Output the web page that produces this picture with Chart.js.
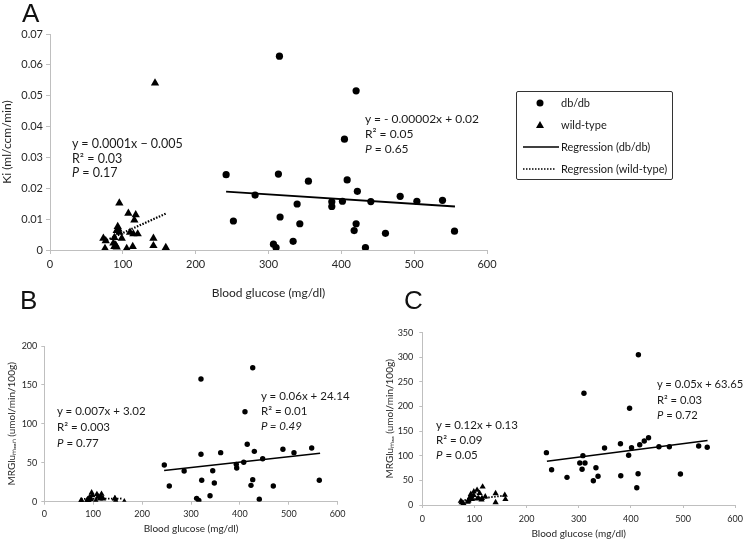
<!DOCTYPE html>
<html><head><meta charset="utf-8">
<script src="https://cdn.jsdelivr.net/npm/chart.js@4.4.1/dist/chart.umd.min.js"></script>
<style>
html,body{margin:0;padding:0;background:#fff;width:749px;height:540px;overflow:hidden;position:relative;}
canvas{position:absolute;}
.t{position:absolute;font-family:Lato,sans-serif;color:#1a1a1a;white-space:nowrap;line-height:12px;}
.letter{position:absolute;font-family:"Liberation Sans",Arial,sans-serif;font-size:26px;line-height:26px;color:#111;}
.legend{position:absolute;left:516px;top:91px;width:155px;height:87px;border:1.5px solid #333;border-radius:2px;}
.legend div{position:absolute;font-family:Lato,sans-serif;font-size:11px;line-height:12px;color:#1a1a1a;white-space:nowrap;}
.legend svg{position:absolute;left:0;top:0;}
</style></head>
<body>
<canvas id="cA" width="749" height="300" style="left:0;top:0;width:749px;height:300px"></canvas>
<canvas id="cB" width="370" height="240" style="left:0;top:300px;width:370px;height:240px"></canvas>
<canvas id="cC" width="379" height="240" style="left:370px;top:300px;width:379px;height:240px"></canvas>

<div class="letter" style="left:22px;top:0px">A</div>
<div class="letter" style="left:20px;top:287px">B</div>
<div class="letter" style="left:404px;top:287px">C</div>

<div class="t" style="left:72px;top:138px;font-size:12.5px">y = 0.0001x − 0.005</div>
<div class="t" style="left:72px;top:153px;font-size:12.5px">R² = 0.03</div>
<div class="t" style="left:72px;top:167px;font-size:12.5px"><i>P</i> = 0.17</div>

<div class="t" style="left:365px;top:113px;font-size:12px">y = - 0.00002x + 0.02</div>
<div class="t" style="left:365px;top:128px;font-size:12px">R² = 0.05</div>
<div class="t" style="left:365px;top:143px;font-size:12px"><i>P</i> = 0.65</div>

<div class="t" style="left:57px;top:405px;font-size:11.5px">y = 0.007x + 3.02</div>
<div class="t" style="left:57px;top:421px;font-size:11.5px">R² = 0.003</div>
<div class="t" style="left:57px;top:437px;font-size:11.5px"><i>P</i> = 0.77</div>

<div class="t" style="left:261px;top:390px;font-size:11.5px">y = 0.06x + 24.14</div>
<div class="t" style="left:261px;top:405px;font-size:11.5px">R² = 0.01</div>
<div class="t" style="left:261px;top:420px;font-size:11.5px"><i>P = 0.49</i></div>

<div class="t" style="left:436px;top:419px;font-size:11.5px">y = 0.12x + 0.13</div>
<div class="t" style="left:436px;top:434px;font-size:11.5px">R² = 0.09</div>
<div class="t" style="left:436px;top:449px;font-size:11.5px"><i>P</i> = 0.05</div>

<div class="t" style="left:657px;top:378px;font-size:11.2px">y = 0.05x + 63.65</div>
<div class="t" style="left:657px;top:394px;font-size:11.2px">R² = 0.03</div>
<div class="t" style="left:657px;top:409px;font-size:11.2px"><i>P</i> = 0.72</div>

<div class="legend">
  <svg width="155" height="87">
    <circle cx="23" cy="11" r="3.5" fill="#000"/>
    <polygon points="23,29 27,36 19,36" fill="#000"/>
    <line x1="6" y1="55" x2="42" y2="55" stroke="#000" stroke-width="1.6"/>
    <line x1="6" y1="77" x2="39" y2="77" stroke="#000" stroke-width="1.6" stroke-dasharray="1.5,1.5"/>
  </svg>
  <div style="left:44px;top:5px">db/db</div>
  <div style="left:44px;top:27px">wild-type</div>
  <div style="left:44px;top:49px">Regression (db/db)</div>
  <div style="left:44px;top:71px">Regression (wild-type)</div>
</div>

<script>
// ---------- Panel A : Ki ----------
const aDbX = [241.8,251.8,281.6,315.0,313.6,315.9,306.8,310.4,333.8,339.3,343.0,354.8,386.9,386.9,401.5,404.3,408.0,420.3,422.0,420.3,417.6,433.1,440.5,480.8,503.7,538.9,460.6,555.4];
const aDbY = [0.0244,0.0094,0.0178,0.0628,0.0246,0.0107,0.0019,0.0008,0.0028,0.0149,0.0085,0.0223,0.0156,0.0141,0.0158,0.0359,0.0227,0.0516,0.0190,0.0085,0.0063,0.0008,0.0157,0.0174,0.0158,0.0161,0.0054,0.0061];
const aWtX = [95.2,107.6,117.7,115.8,93.0,93.9,91.6,95.2,109.9,114.4,120.4,73.3,76.5,88.4,98.5,87.0,90.2,88.4,91.6,75.5,105.3,113.6,142.0,142.0,159.0,144.2];
const aWtY = [0.0152,0.0119,0.0114,0.0097,0.0076,0.0068,0.0063,0.0057,0.0057,0.0052,0.0052,0.0038,0.0030,0.0040,0.0038,0.0022,0.0016,0.0011,0.0009,0.0005,0.0005,0.0011,0.0038,0.0014,0.0008,0.0541];
const aDbFitX = [241.8,556.0];
const aDbFitY = [0.0189,0.0141];
const aWtFitX = [78,160];
const aWtFitY = [0.0032,0.0119];
const aXTicks = [0,100,200,300,400,500,600];
const aYTicks = [0,0.01,0.02,0.03,0.04,0.05,0.06,0.07];

// ---------- Panel B : MRGlu mean ----------
const bDbX = [245.4,255.6,286.0,320.4,320.4,321.9,311.5,316.0,338.9,344.4,347.7,360.7,392.6,393.5,407.8,410.4,415.0,426.2,429.5,426.2,422.7,439.7,446.6,468.3,488.0,510.6,546.8,562.4];
const bDbY = [47.1,20.1,39.4,157.6,60.9,27.5,4.3,1.7,7.7,39.8,24.0,63.0,48.0,43.3,50.6,115.6,73.7,172.0,64.7,28.3,21.0,3.1,55.2,20.2,67.3,63.0,69.0,27.5];
const bWtX = [96.8,107.6,117.0,115.8,93.0,93.9,91.6,95.2,109.9,114.4,120.4,75.0,76.5,88.4,98.5,87.0,90.2,88.4,91.6,75.5,105.3,113.6,144.5,146.0,163.6,144.2];
const bWtY = [11.6,9.5,9.8,7.0,6.0,5.0,4.0,3.0,6.4,6.0,4.0,1.3,1.5,3.0,8.0,1.0,2.0,1.0,0.5,0.5,1.0,4.0,4.3,1.0,0.0,4.0];
const bDbFitX = [245,564];
const bDbFitY = [40.0,62.2];
const bWtFitX = [75,160];
const bWtFitY = [3.5,4.1];
const bXTicks = [0,100,200,300,400,500,600];
const bYTicks = [0,50,100,150,200];

// ---------- Panel C : MRGlu max ----------
const cDbX = [238.0,248.0,277.5,310.0,308.0,302.0,312.0,306.4,328.0,333.0,337.0,349.5,380.0,380.6,395.7,397.5,401.3,414.4,413.8,411.3,417.0,425.7,433.9,453.8,473.8,495.0,530.0,546.4];
const cDbY = [106.3,71.7,56.2,227.0,100.2,85.3,85.3,72.5,49.4,75.8,58.3,115.8,124.5,59.5,101.0,196.4,116.4,305.3,63.6,35.1,122.5,130.0,136.7,118.4,118.4,63.0,119.8,117.2];
const cWtX = [98.8,105.0,115.7,108.0,93.0,93.9,91.6,95.2,109.9,114.4,120.7,73.9,78.8,88.4,98.5,87.0,90.2,88.4,91.6,75.5,105.3,113.6,140.6,140.6,159.4,158.2];
const cWtY = [27.0,30.5,37.0,13.6,22.0,18.0,15.0,12.0,24.0,14.0,17.0,8.0,3.4,10.0,20.0,6.0,12.0,8.0,16.0,5.0,13.0,11.0,23.7,5.4,11.6,20.3];
const cDbFitX = [239,547];
const cDbFitY = [89.0,131.0];
const cWtFitX = [75,160];
const cWtFitY = [9.1,19.3];
const cXTicks = [0,100,200,300,400,500,600];
const cYTicks = [0,50,100,150,200,250,300,350];

const pts = (xs, ys) => xs.map((x, i) => ({x: x, y: ys[i]}));
const GREY = '#bfbfbf';
const TXT = '#262626';

function panel(id, c) {
  return new Chart(document.getElementById(id), {
    type: 'scatter',
    data: {datasets: [
      {label: 'Regression (wild-type)', data: pts(c.wtFitX, c.wtFitY), showLine: true, pointRadius: 0,
       borderColor: '#000', borderWidth: c.dw, borderDash: [1.5, 1.5], fill: false, order: 3},
      {label: 'db/db', data: pts(c.dbX, c.dbY), pointStyle: 'circle', pointRadius: c.r,
       backgroundColor: '#000', borderColor: '#000', borderWidth: 0, order: 2},
      {label: 'wild-type', data: pts(c.wtX, c.wtY), pointStyle: 'triangle', pointRadius: c.tr,
       backgroundColor: '#000', borderColor: '#000', borderWidth: 0, order: 2},
      {label: 'Regression (db/db)', data: pts(c.dbFitX, c.dbFitY), showLine: true, pointRadius: 0,
       borderColor: '#000', borderWidth: c.lw, fill: false, order: 1}
    ]},
    options: {
      responsive: false, animation: false, events: [],
      layout: {padding: c.pad},
      plugins: {legend: {display: false}, tooltip: {enabled: false}},
      scales: {
        x: {
          type: 'linear', min: c.xTicks[0], max: c.xTicks[c.xTicks.length - 1],
          afterBuildTicks: s => { s.ticks = c.xTicks.map(v => ({value: v})); },
          afterFit: s => { s.height = c.xH; },
          grid: {drawOnChartArea: false, color: GREY, tickLength: c.tl, tickWidth: 1},
          border: {color: GREY, width: 1},
          ticks: {font: {family: 'Lato', size: c.tf}, color: TXT, padding: c.xtp, maxRotation: 0, callback: v => String(v)},
          title: {display: true, text: 'Blood glucose (mg/dl)', font: {family: 'Lato', size: c.af}, color: TXT, padding: {top: 0, bottom: c.xtb}}
        },
        y: {
          type: 'linear', min: c.yTicks[0], max: c.yTicks[c.yTicks.length - 1],
          afterBuildTicks: s => { s.ticks = c.yTicks.map(v => ({value: v})); },
          afterFit: s => { s.width = c.yW; },
          grid: {drawOnChartArea: false, color: GREY, tickLength: c.tl, tickWidth: 1},
          border: {color: GREY, width: 1},
          ticks: {font: {family: 'Lato', size: c.tf}, color: TXT, padding: c.ytp, callback: v => String(v)},
          title: {display: true, text: c.yTitle, font: {family: 'Lato', size: c.af}, color: TXT, padding: {top: c.ytt, bottom: 0}}
        }
      }
    }
  });
}

panel('cA', {
  dbX: aDbX, dbY: aDbY, wtX: aWtX, wtY: aWtY,
  dbFitX: aDbFitX, dbFitY: aDbFitY, wtFitX: aWtFitX, wtFitY: aWtFitY,
  xTicks: aXTicks, yTicks: aYTicks, yTitle: 'Ki (ml/ccm/min)',
  pad: {left: 0, top: 34, right: 262, bottom: 0}, yW: 50, xH: 50,
  r: 3.6, tr: 4.8, lw: 1.8, dw: 2.2, tl: 4, tf: 11, af: 12, xtp: 4, ytp: 3, xtb: 0, ytt: 0
});
panel('cB', {
  dbX: bDbX, dbY: bDbY, wtX: bWtX, wtY: bWtY,
  dbFitX: bDbFitX, dbFitY: bDbFitY, wtFitX: bWtFitX, wtFitY: bWtFitY,
  xTicks: bXTicks, yTicks: bYTicks, yTitle: 'MRGlu\u2098\u2091\u2090\u2099 (umol/min/100g)',
  pad: {left: 0, top: 46, right: 32.3, bottom: 0}, yW: 44.3, xH: 38.3,
  r: 2.7, tr: 3.6, lw: 1.6, dw: 1.8, tl: 3, tf: 9, af: 10, xtp: 4, ytp: 4, xtb: 5, ytt: 6
});
panel('cC', {
  dbX: cDbX, dbY: cDbY, wtX: cWtX, wtY: cWtY,
  dbFitX: cDbFitX, dbFitY: cDbFitY, wtFitX: cWtFitX, wtFitY: cWtFitY,
  xTicks: cXTicks, yTicks: cYTicks, yTitle: 'MRGlu\u2098\u2090\u2093 (umol/min/100g)',
  pad: {left: 0, top: 32.7, right: 6.7, bottom: 0}, yW: 52.3, xH: 35,
  r: 2.7, tr: 3.6, lw: 1.6, dw: 1.8, tl: 3, tf: 9, af: 10, xtp: 6, ytp: 6, xtb: 0, ytt: 14
});
</script>
</body></html>
